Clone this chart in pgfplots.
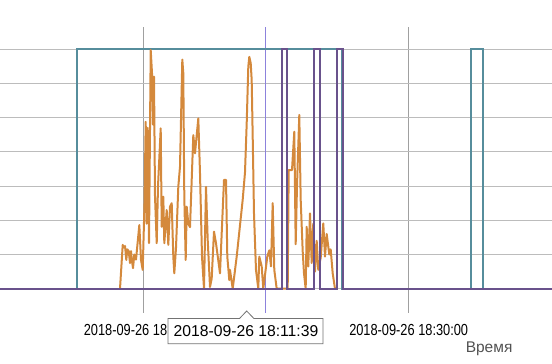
\documentclass[border=0pt]{standalone}
\usepackage{pgfplots}
\pgfplotsset{compat=1.18}
\usepackage{fontspec}
\setmainfont{Liberation Sans}
\newfontfamily\tickfont[FakeStretch=0.8]{Liberation Sans}
\definecolor{tealc}{RGB}{86,141,156}
\definecolor{orangec}{RGB}{212,137,60}
\definecolor{purplec}{RGB}{105,82,140}
\definecolor{gridh}{RGB}{188,188,188}
\definecolor{gridv}{RGB}{160,160,160}
\definecolor{cursorc}{RGB}{140,130,220}
\begin{document}
\begin{tikzpicture}
\useasboundingbox (0,-51pt) rectangle (552pt,313pt);
\begin{axis}[at={(0,0)}, anchor=south west, scale only axis,
  width=552pt, height=286pt,
  xmin=-16.20, xmax=46.20, ymin=-0.711, ymax=7.652,
  axis line style={draw=none},
  major tick length=0pt,
  ytick={0,1,2,3,4,5,6,7}, yticklabels={},
  xtick={0,30},
  xticklabels={2018-09-26 18:00:00, 2018-09-26 18:30:00},
  xticklabel style={font=\tickfont\fontsize{16}{16}\selectfont, anchor=base, yshift=-23pt, text=black},
  xmajorgrids, ymajorgrids,
  major x grid style={draw=gridv, line width=1pt},
  major y grid style={draw=gridh, line width=1.1pt},
  extra x ticks={13.79}, extra x tick labels={},
  extra x tick style={major x grid style={draw=cursorc, line width=0.8pt}},
  xlabel={Время},
  xlabel style={at={(rel axis cs:0.886,0)}, anchor=base, yshift=-39.7pt, text=black!68, font=\fontsize{15.5}{15.5}\selectfont},
]
% Teal series
\addplot[tealc, line width=2.2pt, line join=miter] coordinates {
 (-17,0) (-7.46,0) (-7.46,7) (22.50,7) (22.50,0) (37.04,0) (37.04,7) (38.40,7) (38.40,0) (47,0)
};
% Orange series
\addplot[orangec, line width=2pt, line join=round] coordinates {
 (-2.634,0) (-2.328,1.28) (-2.181,1.20) (-2.068,1.25) (-1.922,0.84) (-1.808,1.15)
 (-1.650,1.10) (-1.503,0.75) (-1.390,1.10) (-1.277,0.80) (-1.164,0.60) (-1.017,1.00)
 (-0.825,0.85) (-0.452,1.86) (-0.260,0.84) (-0.068,0.55)
 (0.136,2.5) (0.271,4.88) (0.384,1.9) (0.497,4.7) (0.644,1.33) (0.836,6.98)
 (0.983,6.3) (1.096,4.8) (1.209,6.2) (1.322,2.7) (1.515,1.33) (1.662,3.0)
 (1.967,4.69) (2.080,1.81) (2.261,2.69) (2.374,1.33) (2.645,2.3) (2.826,1.28)
 (3.018,2.4) (3.210,2.5) (3.391,0.94) (3.504,0.45) (3.696,1.2) (3.956,2.98)
 (4.148,3.57) (4.408,6.7) (4.521,6.3) (4.634,2.69) (4.792,0.84) (4.906,2.4)
 (5.086,1.9) (5.279,1.8) (5.652,4.49) (5.844,3.96) (6.217,4.98) (6.409,3.37)
 (6.635,0.94) (6.861,0) (7.087,2.98) (7.279,1.43) (7.539,0.05) (7.731,0.3)
 (7.991,1.67) (8.217,1.33) (8.669,0.45) (8.862,1.62) (9.122,3.18) (9.348,3.18)
 (9.495,0.94) (9.721,0.25) (9.800,0.55) (10.105,0) (10.557,0.94) (11.235,2.6)
 (11.495,3.4) (11.687,4.83) (11.868,6.49) (11.981,6.78) (12.139,6.6) (12.252,6.1)
 (12.366,4.44) (12.512,2.2) (12.738,0.55) (12.998,0) (13.111,0.94) (13.383,0.65)
 (13.564,0) (14.016,0.94) (14.242,1.12) (14.434,0.65) (14.626,2.5) (14.807,0.55)
 (15.078,0) (16.322,0) (16.435,3.47) (16.808,3.47) (17.068,4.59) (17.226,1.3)
 (17.373,3.0) (17.633,5.08) (17.791,2.6) (18.017,1.1) (18.164,0.45) (18.356,0)
 (18.469,1.81) (18.650,0.65) (18.842,2.2) (19.034,0.75) (19.215,1.9) (19.407,0.5)
 (19.599,1.4) (19.780,0.55) (20.052,0.9) (20.345,1.91) (20.538,0.94) (20.730,1.6)
 (21.024,1.0) (21.182,1.15) (21.408,0.45) (21.668,0)
};
% Purple series
\addplot[purplec, line width=2.2pt, line join=miter] coordinates {
 (-17,0) (15.64,0) (15.64,7) (16.28,7) (16.28,0) (19.33,0) (19.33,7) (19.97,7)
 (19.97,0) (21.93,0) (21.93,7) (22.54,7) (22.54,0) (47,0)
};
\end{axis}
% tooltip
\draw[fill=white, draw=black!55, line width=0.8pt]
  (168pt,-30.7pt) -- (168pt,-5.5pt) -- (239.5pt,-5.5pt) -- (246.7pt,2pt)
  -- (253.9pt,-5.5pt) -- (323pt,-5.5pt) -- (323pt,-30.7pt) -- cycle;
\node[anchor=base, inner sep=0pt, font=\fontsize{15.7}{15.7}\selectfont] at (246pt,-23.7pt) {2018-09-26 18:11:39};
\end{tikzpicture}
\end{document}
